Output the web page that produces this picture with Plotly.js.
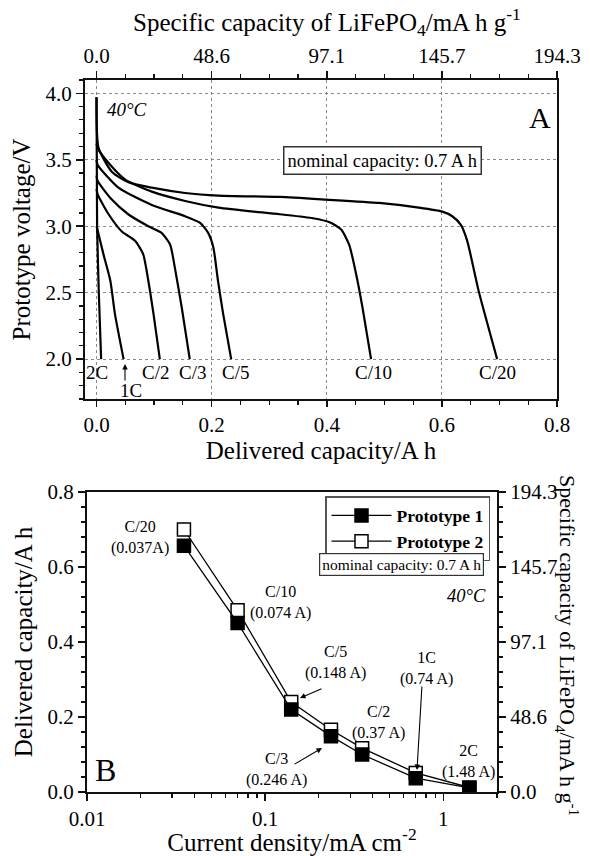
<!DOCTYPE html>
<html>
<head>
<meta charset="utf-8">
<script src="https://cdn.plot.ly/plotly-3.0.1.min.js"></script>
<style>html,body{margin:0;padding:0;background:#fff;}#chart{width:590px;height:856px;}</style>
</head>
<body>
<div id="chart"></div>
<script>
// ---------- Panel A: discharge curves (capacity / A h, voltage / V) ----------
const rateLabels = ['C/20', 'C/10', 'C/5', 'C/3', 'C/2', '1C', '2C'];
const capC20 = [0, 0.0035, 0.0266, 0.0555, 0.096, 0.154, 0.212, 0.318, 0.399, 0.491, 0.560, 0.601, 0.618, 0.633, 0.644, 0.664, 0.696];
const voltC20 = [3.97, 3.59, 3.41, 3.33, 3.29, 3.25, 3.23, 3.22, 3.20, 3.175, 3.14, 3.11, 3.075, 3.01, 2.89, 2.51, 2.0];
const capC10 = [0, 0.003, 0.021, 0.05, 0.096, 0.154, 0.212, 0.318, 0.376, 0.405, 0.425, 0.439, 0.451, 0.462, 0.477];
const voltC10 = [3.62, 3.58, 3.475, 3.35, 3.26, 3.19, 3.14, 3.09, 3.06, 3.03, 2.975, 2.86, 2.64, 2.39, 2.0];
const capC5 = [0, 0.002, 0.038, 0.096, 0.154, 0.18, 0.194, 0.203, 0.211, 0.22, 0.234];
const voltC5 = [3.5, 3.46, 3.29, 3.16, 3.075, 3.025, 2.95, 2.84, 2.59, 2.34, 2.0];
const capC3 = [0, 0.002, 0.0266, 0.055, 0.09, 0.113, 0.128, 0.136, 0.148, 0.162];
const voltC3 = [3.38, 3.34, 3.2, 3.09, 3.0, 2.95, 2.86, 2.69, 2.39, 2.0];
const capC2 = [0, 0.002, 0.021, 0.044, 0.067, 0.081, 0.09, 0.099, 0.11];
const voltC2 = [3.28, 3.24, 3.09, 2.96, 2.89, 2.79, 2.59, 2.34, 2.0];
const cap1C = [0, 0.0024, 0.012, 0.024, 0.032, 0.047];
const volt1C = [3.0, 2.96, 2.79, 2.59, 2.34, 2.0];
const cap2C = [0, 0.001, 0.004, 0.008];
const volt2C = [3.97, 3.0, 2.5, 2.0];

// specific-capacity axis (mA h g-1) tick labels
const specTickVals = [0, 48.575, 97.15, 145.725, 194.3];
const specTickText = ['0.0', '48.6', '97.1', '145.7', '194.3'];
const specPerAh = 194.3 / 0.8;

// ---------- Panel B: rate capability ----------
const currentDensity = [0.035, 0.07, 0.14, 0.234, 0.35, 0.7, 1.4];
const prototype1 = [0.657, 0.451, 0.22, 0.149, 0.10, 0.037, 0.011];
const prototype2 = [0.70, 0.485, 0.24, 0.166, 0.117, 0.051, 0.012];
const pointLabels = ['C/20<br>(0.037A)', 'C/10<br>(0.074 A)', 'C/5<br>(0.148 A)', 'C/3<br>(0.246 A)', 'C/2<br>(0.37 A)', '1C<br>(0.74 A)', '2C<br>(1.48 A)'];
const seriesNames = ['Prototype 1', 'Prototype 2'];

// ---------- drawing ----------
const W = 590, H = 856;
const FX = p => p / W, FY = p => 1 - p / H;
const SERIF = 'Liberation Serif, Times New Roman, serif';
const AX = '#111';
const SPEC_TITLE = 'Specific capacity of LiFePO<sub>4</sub>/mA h g<sup>-1</sup>';

const curves = [[capC20, voltC20], [capC10, voltC10], [capC5, voltC5], [capC3, voltC3], [capC2, voltC2], [cap1C, volt1C], [cap2C, volt2C]];
const traces = curves.map((c, i) => ({
  type: 'scatter', mode: 'lines', x: c[0], y: c[1], name: rateLabels[i],
  xaxis: 'x', yaxis: 'y', showlegend: false, hoverinfo: 'skip',
  line: {color: '#000', width: 2.2, shape: 'spline', smoothing: 0.6}
}));
// helper so the top specific-capacity axis is drawn
traces.push({type: 'scatter', mode: 'none', x: [specTickVals[0]], y: [3], xaxis: 'x2', yaxis: 'y', showlegend: false, hoverinfo: 'skip'});

traces.push({
  type: 'scatter', mode: 'lines+markers', x: currentDensity, y: prototype2, name: '<b>' + seriesNames[1] + '</b>',
  xaxis: 'x3', yaxis: 'y3',
  line: {color: '#000', width: 1.3},
  marker: {symbol: 'square', size: 13, color: '#fff', line: {color: '#000', width: 1.5}}
});
traces.push({
  type: 'scatter', mode: 'lines+markers', x: currentDensity, y: prototype1, name: '<b>' + seriesNames[0] + '</b>',
  xaxis: 'x3', yaxis: 'y3',
  line: {color: '#000', width: 1.3},
  marker: {symbol: 'square', size: 13, color: '#000', line: {color: '#000', width: 1.5}}
});
traces.push({type: 'scatter', mode: 'none', x: [currentDensity[0]], y: [specTickVals[1]], xaxis: 'x3', yaxis: 'y4', showlegend: false, hoverinfo: 'skip'});

const tickFont = {family: SERIF, size: 21, color: '#000'};
const titleFont = {family: SERIF, size: 25, color: '#000'};

const layout = {
  width: W, height: H,
  margin: {l: 0, r: 0, t: 0, b: 0},
  paper_bgcolor: '#fff', plot_bgcolor: '#fff',
  showlegend: true,
  xaxis: {
    domain: [FX(85), FX(557)], anchor: 'y', range: [-0.02, 0.8],
    tick0: 0, dtick: 0.2, tickformat: '.1f', tickfont: tickFont,
    ticks: 'outside', ticklen: 6, tickwidth: 1.5, tickcolor: AX,
    minor: {dtick: 0.05, ticks: 'outside', ticklen: 4, tickwidth: 1.2, tickcolor: AX, showgrid: false},
    showline: true, linecolor: AX, linewidth: 2, zeroline: false,
    showgrid: true, gridcolor: '#8a8a8a', gridwidth: 1, griddash: 'dot',
    title: {text: 'Delivered capacity/A h', font: titleFont, standoff: 0}
  },
  xaxis2: {
    overlaying: 'x', side: 'top', anchor: 'y', range: [-0.02 * specPerAh, 0.8 * specPerAh],
    tickmode: 'array', tickvals: specTickVals, ticktext: specTickText, tickfont: tickFont,
    ticks: 'outside', ticklen: 7, tickwidth: 1.5, tickcolor: AX,
    minor: {tick0: 0, dtick: specTickVals[1] / 4, ticks: 'outside', ticklen: 4, tickwidth: 1.2, tickcolor: AX, showgrid: false},
    showline: true, linecolor: AX, linewidth: 2, zeroline: false, showgrid: false
  },
  yaxis: {
    domain: [FY(399), FY(80)], anchor: 'x', range: [1.7, 4.1],
    tick0: 0, dtick: 0.5, tickformat: '.1f', tickfont: tickFont,
    ticks: 'outside', ticklen: 7, tickwidth: 1.5, tickcolor: AX,
    minor: {dtick: 0.1, ticks: 'outside', ticklen: 4, tickwidth: 1.2, tickcolor: AX, showgrid: false},
    showline: true, mirror: true, linecolor: AX, linewidth: 2, zeroline: false,
    showgrid: true, gridcolor: '#8a8a8a', gridwidth: 1, griddash: 'dot',
    title: {text: 'Prototype voltage/V', font: titleFont, standoff: 8}
  },
  xaxis3: {
    type: 'log', domain: [FX(87), FX(497)], anchor: 'y3', range: [-2, Math.log10(2)],
    tickmode: 'array', tickvals: [0.01, 0.1, 1], ticktext: ['0.01', '0.1', '1'], tickfont: tickFont,
    ticks: 'outside', ticklen: 7, tickwidth: 1.5, tickcolor: AX,
    minor: {tickmode: 'array', tickvals: [0.02, 0.03, 0.04, 0.05, 0.06, 0.07, 0.08, 0.09, 0.2, 0.3, 0.4, 0.5, 0.6, 0.7, 0.8, 0.9, 2],
            ticks: 'outside', ticklen: 4, tickwidth: 1.2, tickcolor: AX, showgrid: false},
    showline: true, mirror: true, linecolor: AX, linewidth: 2, zeroline: false, showgrid: false,
    title: {text: 'Current density/mA cm<sup>-2</sup>', font: titleFont, standoff: 2}
  },
  yaxis3: {
    domain: [FY(792), FY(492)], anchor: 'x3', range: [0, 0.8],
    tick0: 0, dtick: 0.2, tickformat: '.1f', tickfont: tickFont,
    ticks: 'outside', ticklen: 7, tickwidth: 1.5, tickcolor: AX,
    minor: {dtick: 0.04, ticks: 'outside', ticklen: 4, tickwidth: 1.2, tickcolor: AX, showgrid: false},
    showline: true, linecolor: AX, linewidth: 2, zeroline: false, showgrid: false,
    title: {text: 'Delivered capacity/A h', font: titleFont, standoff: 8}
  },
  yaxis4: {
    overlaying: 'y3', side: 'right', anchor: 'x3', range: [0, 194.3],
    tickmode: 'array', tickvals: specTickVals, ticktext: specTickText, tickfont: tickFont,
    ticks: 'outside', ticklen: 7, tickwidth: 1.5, tickcolor: AX,
    minor: {tick0: 0, dtick: specTickVals[4] / 20, ticks: 'outside', ticklen: 4, tickwidth: 1.2, tickcolor: AX, showgrid: false},
    showline: true, linecolor: AX, linewidth: 2, zeroline: false, showgrid: false
  },
  legend: {
    x: FX(490), y: FY(496), xanchor: 'right', yanchor: 'top',
    bgcolor: '#fff', bordercolor: '#555', borderwidth: 1.5,
    font: {family: SERIF, size: 17.5, color: '#000'}, traceorder: 'reversed',
    itemwidth: 60, tracegroupgap: 0
  },
  annotations: []
};

function txt(t, px, py, size, extra) {
  return Object.assign({xref: 'paper', yref: 'paper', x: FX(px), y: FY(py), text: t, showarrow: false,
    xanchor: 'center', yanchor: 'middle', font: {family: SERIF, size: size, color: '#000'}}, extra || {});
}
function arrow(hx, hy, tx, ty) {
  return {xref: 'paper', yref: 'paper', x: FX(hx), y: FY(hy), ax: tx - hx, ay: ty - hy, text: '',
    showarrow: true, arrowhead: 2, arrowsize: 1, arrowwidth: 1.1, arrowcolor: '#000', standoff: 0, startstandoff: 0};
}
const A = layout.annotations;
// panel A texts
A.push(txt(SPEC_TITLE, 327, 22, 25));
A.push(txt('<i>40°C</i>', 127, 110, 19));
A.push(txt('A', 540, 118, 30));
A.push(txt('nominal capacity: 0.7 A h', 382, 161, 18.5, {bordercolor: '#333', borderwidth: 1.5, borderpad: 3, bgcolor: '#fff'}));
const rateLabelPos = [[497, 372], [373, 372], [235, 372], [192, 372], [155, 372], [131, 390], [97, 372]];
rateLabels.forEach((r, i) => A.push(txt(r, rateLabelPos[i][0], rateLabelPos[i][1], 19)));
A.push(arrow(125, 364, 125, 382));
// panel B texts
A.push(txt('B', 105, 770, 32));
A.push(txt('<i>40°C</i>', 488, 596, 18.5, {xanchor: 'right'}));
A.push(txt('nominal capacity: 0.7 A h', 401, 564, 15.5, {bordercolor: '#333', borderwidth: 1.2, borderpad: 2, bgcolor: '#fff'}));
const pointLabelPos = [[140, 537], [280, 602], [335, 662], [276, 769], [378, 722], [426, 668], [468, 761]];
pointLabels.forEach((t, i) => A.push(txt(t, pointLabelPos[i][0], pointLabelPos[i][1], 16)));
A.push(arrow(300, 698, 323, 688));
A.push(arrow(322, 748, 293, 765));
A.push(arrow(417, 770, 422, 685));
A.push(txt(SPEC_TITLE, 568, 645, 22, {textangle: 90}));

Plotly.newPlot('chart', traces, layout, {staticPlot: true, displayModeBar: false});
</script>
</body>
</html>
